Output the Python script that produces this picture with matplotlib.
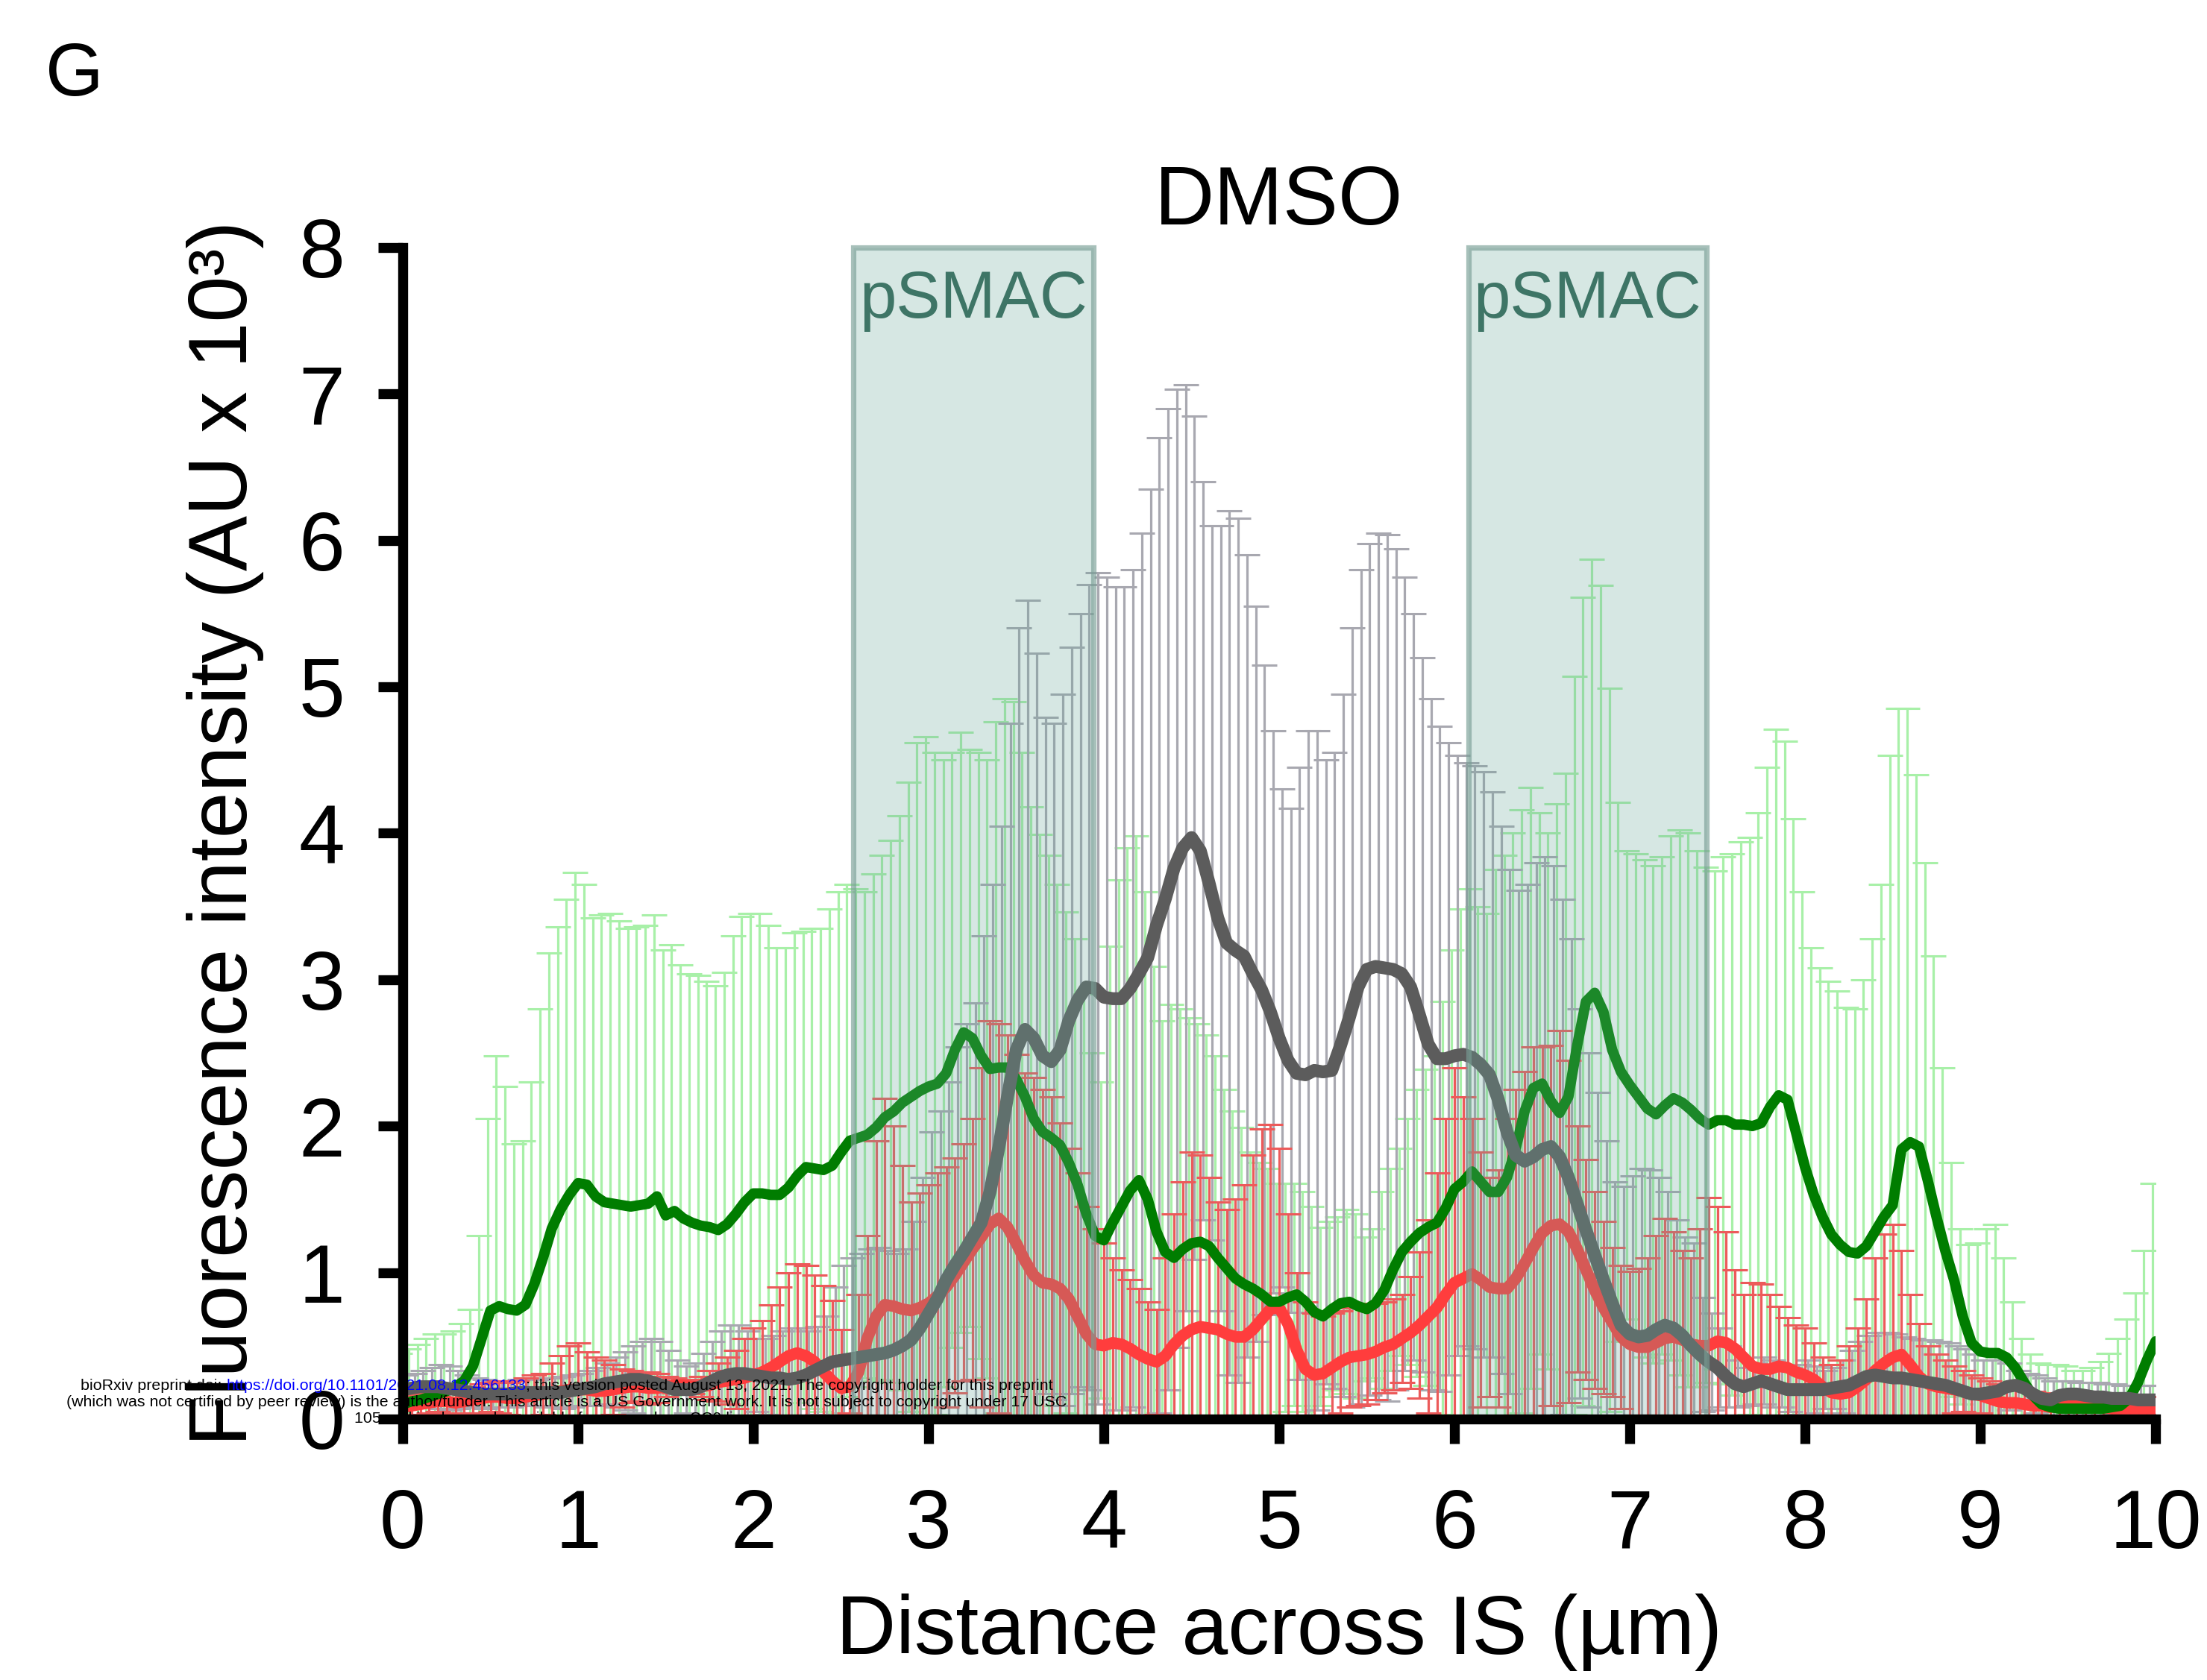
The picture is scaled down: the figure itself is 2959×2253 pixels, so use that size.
import numpy as np
import matplotlib
matplotlib.use('Agg')
import matplotlib.pyplot as plt
from matplotlib.patches import Rectangle

plt.rcParams['font.family'] = ['Liberation Sans', 'DejaVu Sans']

# profile sampled every 0.05 um across the IS (0 .. 10 um)
step_um = 0.05

green_mean = [
    0.10, 0.12, 0.13, 0.15, 0.17, 0.19, 0.22, 0.26, 0.36, 0.55, 0.74, 0.77, 0.75, 0.74, 0.78, 0.92, 1.10, 1.30, 1.43, 1.53,
    1.61, 1.60, 1.52, 1.48, 1.47, 1.46, 1.45, 1.46, 1.47, 1.52, 1.39, 1.42, 1.37, 1.34, 1.32, 1.31, 1.29, 1.33, 1.40, 1.48,
    1.54, 1.54, 1.53, 1.53, 1.58, 1.66, 1.72, 1.71, 1.70, 1.73, 1.82, 1.90, 1.92, 1.94, 1.99, 2.06, 2.10, 2.16, 2.20, 2.24,
    2.27, 2.29, 2.36, 2.52, 2.64, 2.60, 2.48, 2.39, 2.40, 2.40, 2.32, 2.20, 2.05, 1.96, 1.92, 1.87, 1.75, 1.60, 1.40, 1.25,
    1.22, 1.34, 1.45, 1.56, 1.63, 1.50, 1.28, 1.14, 1.10, 1.16, 1.20, 1.21, 1.18, 1.10, 1.03, 0.96, 0.92, 0.89, 0.85, 0.80,
    0.80, 0.83, 0.85, 0.80, 0.73, 0.70, 0.75, 0.79, 0.80, 0.77, 0.75, 0.79, 0.88, 1.02, 1.14, 1.21, 1.27, 1.31, 1.34, 1.44,
    1.57, 1.62, 1.69, 1.62, 1.55, 1.55, 1.65, 1.85, 2.10, 2.26, 2.29, 2.17, 2.09, 2.20, 2.55, 2.85, 2.91, 2.78, 2.52, 2.37,
    2.28, 2.20, 2.12, 2.08, 2.14, 2.19, 2.16, 2.11, 2.05, 2.01, 2.04, 2.04, 2.01, 2.01, 2.00, 2.02, 2.13, 2.21, 2.18, 1.95,
    1.72, 1.53, 1.38, 1.26, 1.19, 1.14, 1.13, 1.18, 1.28, 1.38, 1.46, 1.84, 1.89, 1.86, 1.63, 1.38, 1.15, 0.95, 0.70, 0.52,
    0.46, 0.45, 0.45, 0.42, 0.35, 0.25, 0.16, 0.10, 0.08, 0.07, 0.07, 0.07, 0.07, 0.07, 0.07, 0.08, 0.09, 0.14, 0.25, 0.40,
    0.53,
]
green_upper = [
    0.45, 0.48, 0.51, 0.55, 0.58, 0.58, 0.60, 0.65, 0.75, 1.25, 2.05, 2.48, 2.27, 1.88, 1.90, 2.30, 2.80, 3.18, 3.36, 3.55,
    3.73, 3.65, 3.42, 3.44, 3.45, 3.40, 3.35, 3.36, 3.37, 3.44, 3.20, 3.24, 3.10, 3.04, 3.03, 2.99, 2.96, 3.05, 3.30, 3.43,
    3.45, 3.45, 3.37, 3.22, 3.22, 3.32, 3.33, 3.35, 3.35, 3.48, 3.60, 3.65, 3.62, 3.60, 3.72, 3.85, 3.95, 4.12, 4.35, 4.62,
    4.66, 4.55, 4.50, 4.55, 4.69, 4.57, 4.55, 4.50, 4.76, 4.92, 4.90, 4.55, 4.18, 3.99, 3.85, 3.65, 3.46, 3.28, 2.90, 2.50,
    2.30, 3.23, 3.68, 3.90, 3.98, 3.60, 3.09, 2.72, 2.83, 2.80, 2.74, 2.70, 2.62, 2.48, 2.25, 2.10, 1.99, 1.82, 1.75, 1.71,
    1.61, 1.61, 1.61, 1.55, 1.45, 1.31, 1.35, 1.38, 1.43, 1.40, 1.24, 1.30, 1.55, 1.71, 1.85, 2.05, 2.25, 2.39, 2.48, 2.85,
    3.20, 3.48, 3.62, 3.50, 3.45, 3.75, 3.85, 4.00, 4.16, 4.31, 4.14, 4.00, 4.20, 4.41, 5.07, 5.61, 5.87, 5.69, 4.99, 4.21,
    3.88, 3.86, 3.82, 3.78, 3.84, 3.98, 4.02, 4.00, 3.88, 3.77, 3.74, 3.84, 3.86, 3.94, 3.97, 4.14, 4.45, 4.71, 4.63, 4.10,
    3.60, 3.22, 3.08, 2.99, 2.92, 2.81, 2.80, 3.00, 3.28, 3.65, 4.53, 4.85, 4.85, 4.40, 3.80, 3.16, 2.40, 1.75, 1.30, 1.19,
    1.20, 1.30, 1.33, 1.10, 0.80, 0.55, 0.44, 0.38, 0.37, 0.37, 0.36, 0.33, 0.33, 0.35, 0.39, 0.45, 0.55, 0.68, 0.86, 1.15,
    1.61,
]

red_mean = [
    0.08, 0.09, 0.10, 0.11, 0.12, 0.12, 0.11, 0.12, 0.13, 0.14, 0.15, 0.15, 0.14, 0.14, 0.15, 0.16, 0.17, 0.18, 0.19, 0.20,
    0.20, 0.20, 0.19, 0.19, 0.20, 0.21, 0.22, 0.22, 0.21, 0.21, 0.22, 0.23, 0.23, 0.22, 0.22, 0.23, 0.25, 0.26, 0.27, 0.28,
    0.30, 0.32, 0.35, 0.39, 0.43, 0.45, 0.43, 0.39, 0.32, 0.26, 0.21, 0.22, 0.32, 0.55, 0.70, 0.78, 0.77, 0.75, 0.74, 0.76,
    0.79, 0.84, 0.90, 0.98, 1.07, 1.16, 1.24, 1.33, 1.37, 1.31, 1.20, 1.08, 0.98, 0.93, 0.92, 0.89, 0.82, 0.70, 0.58, 0.51,
    0.50, 0.52, 0.51, 0.48, 0.44, 0.41, 0.39, 0.43, 0.51, 0.57, 0.61, 0.63, 0.62, 0.61, 0.58, 0.56, 0.56, 0.61, 0.68, 0.75,
    0.76, 0.65, 0.47, 0.34, 0.30, 0.31, 0.35, 0.39, 0.42, 0.43, 0.44, 0.46, 0.49, 0.51, 0.55, 0.59, 0.64, 0.70, 0.76, 0.85,
    0.93, 0.96, 0.99, 0.95, 0.90, 0.89, 0.89, 0.96, 1.06, 1.17, 1.27, 1.32, 1.33, 1.28, 1.16, 1.02, 0.88, 0.76, 0.66, 0.56,
    0.51, 0.49, 0.49, 0.52, 0.55, 0.56, 0.54, 0.51, 0.50, 0.50, 0.53, 0.52, 0.48, 0.42, 0.36, 0.34, 0.34, 0.36, 0.35, 0.32,
    0.30, 0.27, 0.22, 0.18, 0.17, 0.18, 0.22, 0.27, 0.33, 0.38, 0.42, 0.44, 0.37, 0.29, 0.24, 0.22, 0.21, 0.20, 0.19, 0.17,
    0.16, 0.14, 0.12, 0.11, 0.11, 0.10, 0.09, 0.09, 0.08, 0.09, 0.10, 0.10, 0.09, 0.08, 0.08, 0.07, 0.07, 0.07, 0.07, 0.07,
    0.07,
]
red_upper = [
    0.15, 0.16, 0.17, 0.18, 0.19, 0.20, 0.19, 0.20, 0.22, 0.24, 0.25, 0.26, 0.25, 0.26, 0.28, 0.30, 0.31, 0.38, 0.43, 0.50,
    0.52, 0.46, 0.42, 0.40, 0.37, 0.34, 0.33, 0.32, 0.32, 0.31, 0.29, 0.28, 0.27, 0.27, 0.29, 0.33, 0.38, 0.42, 0.47, 0.55,
    0.62, 0.67, 0.78, 0.90, 1.00, 1.06, 1.05, 0.98, 0.91, 0.81, 0.61, 0.40, 0.85, 1.25, 1.90, 2.19, 2.00, 1.73, 1.48, 1.54,
    1.60, 1.68, 1.72, 1.78, 1.88, 2.05, 2.40, 2.72, 2.70, 2.62, 2.49, 2.36, 2.33, 2.25, 2.20, 2.02, 1.85, 1.68, 1.45, 1.30,
    1.20, 1.10, 1.02, 0.95, 0.89, 0.80, 0.75, 1.10, 1.40, 1.62, 1.82, 1.80, 1.65, 1.48, 1.43, 1.50, 1.60, 1.80, 1.98, 2.01,
    1.85, 1.40, 1.00, 0.80, 0.72, 0.70, 0.72, 0.74, 0.76, 0.77, 0.78, 0.79, 0.80, 0.82, 0.85, 0.97, 1.14, 1.36, 1.68, 2.05,
    2.40, 2.20, 2.05, 1.82, 1.65, 1.70, 2.05, 2.25, 2.37, 2.54, 2.54, 2.55, 2.65, 2.45, 2.00, 1.77, 1.55, 1.35, 1.17, 1.05,
    1.01, 1.03, 1.10, 1.25, 1.37, 1.28, 1.15, 1.10, 1.30, 1.51, 1.45, 1.28, 1.02, 0.85, 0.93, 0.92, 0.85, 0.77, 0.69, 0.64,
    0.62, 0.52, 0.42, 0.37, 0.40, 0.50, 0.62, 0.82, 1.10, 1.26, 1.33, 1.15, 0.85, 0.65, 0.50, 0.44, 0.40, 0.36, 0.33, 0.30,
    0.28, 0.26, 0.24, 0.22, 0.21, 0.20, 0.19, 0.18, 0.17, 0.18, 0.19, 0.19, 0.18, 0.17, 0.16, 0.15, 0.15, 0.15, 0.15, 0.15,
    0.15,
]

gray_mean = [
    0.20, 0.21, 0.22, 0.22, 0.22, 0.21, 0.20, 0.19, 0.18, 0.17, 0.17, 0.17, 0.17, 0.18, 0.18, 0.18, 0.18, 0.18, 0.18, 0.19,
    0.20, 0.21, 0.22, 0.24, 0.25, 0.26, 0.27, 0.27, 0.26, 0.24, 0.22, 0.20, 0.20, 0.20, 0.22, 0.25, 0.28, 0.30, 0.31, 0.31,
    0.30, 0.29, 0.28, 0.28, 0.27, 0.28, 0.30, 0.33, 0.36, 0.39, 0.40, 0.41, 0.42, 0.43, 0.44, 0.45, 0.47, 0.50, 0.54, 0.62,
    0.72, 0.82, 0.95, 1.05, 1.14, 1.24, 1.34, 1.55, 1.85, 2.20, 2.52, 2.66, 2.60, 2.48, 2.44, 2.52, 2.72, 2.86, 2.95, 2.94,
    2.88, 2.87, 2.87, 2.94, 3.04, 3.15, 3.37, 3.55, 3.76, 3.90, 3.97, 3.88, 3.66, 3.42, 3.25, 3.20, 3.16, 3.04, 2.93, 2.78,
    2.60, 2.45, 2.36, 2.35, 2.38, 2.37, 2.38, 2.55, 2.74, 2.95, 3.07, 3.09, 3.08, 3.07, 3.04, 2.95, 2.76, 2.56, 2.46, 2.46,
    2.48, 2.49, 2.47, 2.42, 2.35, 2.18, 1.96, 1.80, 1.76, 1.79, 1.84, 1.86, 1.79, 1.65, 1.47, 1.29, 1.12, 0.95, 0.79, 0.64,
    0.58, 0.56, 0.57, 0.61, 0.64, 0.62, 0.57, 0.50, 0.44, 0.39, 0.35, 0.29, 0.24, 0.22, 0.24, 0.26, 0.24, 0.22, 0.20, 0.20,
    0.20, 0.20, 0.20, 0.21, 0.22, 0.23, 0.26, 0.29, 0.30, 0.29, 0.28, 0.28, 0.27, 0.26, 0.25, 0.24, 0.23, 0.21, 0.19, 0.17,
    0.17, 0.18, 0.19, 0.22, 0.23, 0.21, 0.17, 0.14, 0.13, 0.16, 0.17, 0.17, 0.16, 0.15, 0.15, 0.14, 0.14, 0.14, 0.13, 0.13,
    0.13,
]
gray_upper = [
    0.30, 0.31, 0.33, 0.35, 0.37, 0.36, 0.33, 0.30, 0.28, 0.27, 0.26, 0.26, 0.26, 0.27, 0.27, 0.27, 0.28, 0.28, 0.29, 0.30,
    0.31, 0.33, 0.35, 0.38, 0.42, 0.46, 0.50, 0.53, 0.55, 0.53, 0.47, 0.40, 0.36, 0.38, 0.45, 0.53, 0.60, 0.64, 0.64, 0.60,
    0.55, 0.55, 0.57, 0.60, 0.62, 0.62, 0.60, 0.63, 0.70, 0.90, 1.05, 1.10, 1.13, 1.16, 1.17, 1.15, 1.13, 1.16, 1.35, 1.65,
    1.96, 2.10, 2.30, 2.54, 2.70, 2.84, 3.30, 3.65, 4.05, 4.75, 5.40, 5.59, 5.23, 4.79, 4.75, 4.95, 5.27, 5.50, 5.70, 5.78,
    5.75, 5.68, 5.68, 5.80, 6.05, 6.35, 6.70, 6.90, 7.03, 7.06, 6.85, 6.40, 6.10, 6.10, 6.20, 6.15, 5.90, 5.55, 5.15, 4.70,
    4.30, 4.17, 4.45, 4.70, 4.70, 4.50, 4.55, 4.95, 5.40, 5.80, 5.98, 6.05, 6.04, 5.94, 5.75, 5.50, 5.20, 4.92, 4.73, 4.62,
    4.53, 4.48, 4.46, 4.42, 4.28, 4.05, 3.75, 3.61, 3.65, 3.80, 3.84, 3.78, 3.55, 3.28, 2.80, 2.50, 2.23, 1.90, 1.62, 1.59,
    1.66, 1.71, 1.70, 1.65, 1.55, 1.36, 1.24, 1.20, 0.83, 0.72, 0.62, 0.50, 0.40, 0.35, 0.38, 0.42, 0.40, 0.36, 0.35, 0.37,
    0.40, 0.36, 0.33, 0.35, 0.40, 0.47, 0.53, 0.57, 0.59, 0.59, 0.58, 0.56, 0.55, 0.54, 0.54, 0.53, 0.52, 0.50, 0.48, 0.44,
    0.40, 0.40, 0.40, 0.38, 0.33, 0.31, 0.30, 0.28, 0.26, 0.26, 0.26, 0.25, 0.25, 0.25, 0.24, 0.24, 0.23, 0.23, 0.23, 0.23,
    0.23,
]

psmac_zones = [(2.57, 3.94), (6.08, 7.44)]
x_ticks = list(range(0, 11))
y_ticks = list(range(0, 9))

distance = np.arange(len(green_mean)) * step_um

fig = plt.figure(figsize=(2959 / 200, 2253 / 200), dpi=200)
ax = fig.add_axes([0.1825, 0.1554, 0.7942, 0.6973])

# error bars (mean +/- SD), drawn first, slightly dodged
series = [
    # mean, upper, bar colour, cap colour, line colour, line width, dodge
    (green_mean, green_upper, '#a8f0a8', '#8ee88e', '#007d00', 5.0, -step_um / 3),
    (gray_mean, gray_upper, '#a8a8b0', '#909098', '#5c5c5c', 6.2, step_um / 3),
    (red_mean, red_upper, '#ec5a5a', '#e84040', '#ff3d3d', 5.6, 0.0),
]
for mean, upper, bar_c, cap_c, _, _, dodge in series:
    mean = np.asarray(mean)
    sd = np.asarray(upper) - mean
    eb = ax.errorbar(distance + dodge, mean, yerr=sd, fmt='none', ecolor=bar_c,
                     elinewidth=1.15, capsize=6, capthick=1.1, zorder=1)
    for cap in eb[1]:
        cap.set_color(cap_c)

# mean profiles: red, green, then gray on top
for idx in (2, 0, 1):
    mean, _, _, _, line_c, lw, _ = series[idx]
    ax.plot(distance, mean, color=line_c, lw=lw, zorder=1.5,
            solid_joinstyle='round', solid_capstyle='round')

# pSMAC zones, translucent, over the data
for x0, x1 in psmac_zones:
    ax.add_patch(Rectangle((x0, 0), x1 - x0, 8,
                           facecolor=(107 / 255, 167 / 255, 155 / 255, 0.27),
                           edgecolor=(121 / 255, 158 / 255, 149 / 255, 0.65),
                           lw=2.6, zorder=1.8, clip_on=False))
    ax.text((x0 + x1) / 2, 7.52, 'pSMAC', ha='center', va='baseline',
            fontsize=32, color='#3e7566', zorder=1.9)

ax.set_xlim(0, 10)
ax.set_ylim(0, 8)
ax.set_xticks(x_ticks)
ax.set_yticks(y_ticks)
ax.tick_params(direction='out', width=4.8, length=12, labelsize=40)
ax.tick_params(axis='x', pad=21)
ax.tick_params(axis='y', pad=16)
for side in ('top', 'right'):
    ax.spines[side].set_visible(False)
for side in ('left', 'bottom'):
    ax.spines[side].set_linewidth(4.8)

ax.set_title('DMSO', fontsize=40, pad=11)
ax.set_xlabel('Distance across IS (µm)', fontsize=40)
ax.set_ylabel('Fluorescence intensity (AU x 10³)', fontsize=40)
ax.xaxis.set_label_coords(0.5, -0.149)
ax.yaxis.set_label_coords(-0.079, 0.5)

fig.text(0.0206, 0.9432, 'G', fontsize=36, va='baseline')

# bioRxiv footer stamped over the lower left corner
W, H = 2959, 2253
renderer = fig.canvas.get_renderer()


def text_w(s, size):
    t = fig.text(0, 0, s, fontsize=size)
    w = t.get_window_extent(renderer).width
    t.remove()
    return w


stamp_1 = [('bioRxiv preprint doi:', 'black'), (' ', None),
           ('https://doi.org/10.1101/2021.08.12.456133', 'blue'),
           ('; this version posted August 13, 2021. The copyright holder for this preprint', 'black')]
stamp_2 = ('(which was not certified by peer review) is the author/funder. This article is a '
           'US Government work. It is not subject to copyright under 17 USC')
stamp_3 = '105 and is also made available for use under a CC0 license.'

size = 10 * 1337 / text_w(stamp_2, 10)
space_w = text_w('a a', size) - text_w('aa', size)
center_px = 760
rows_px = [1858, 1880, 1902]

widths = [space_w if c is None else text_w(s, size) for s, c in stamp_1]
x_px = center_px - sum(widths) / 2
for (s, c), w in zip(stamp_1, widths):
    if c is not None:
        ax.text(x_px / W, 1 - rows_px[0] / H, s, color=c, fontsize=size, ha='left',
                va='center', transform=fig.transFigure, clip_on=False, zorder=2.2)
    x_px += w
for row, s in zip(rows_px[1:], (stamp_2, stamp_3)):
    ax.text(center_px / W, 1 - row / H, s, color='black', fontsize=size, ha='center',
            va='center', transform=fig.transFigure, clip_on=False, zorder=2.2)

fig.savefig('out.png', dpi=200)
